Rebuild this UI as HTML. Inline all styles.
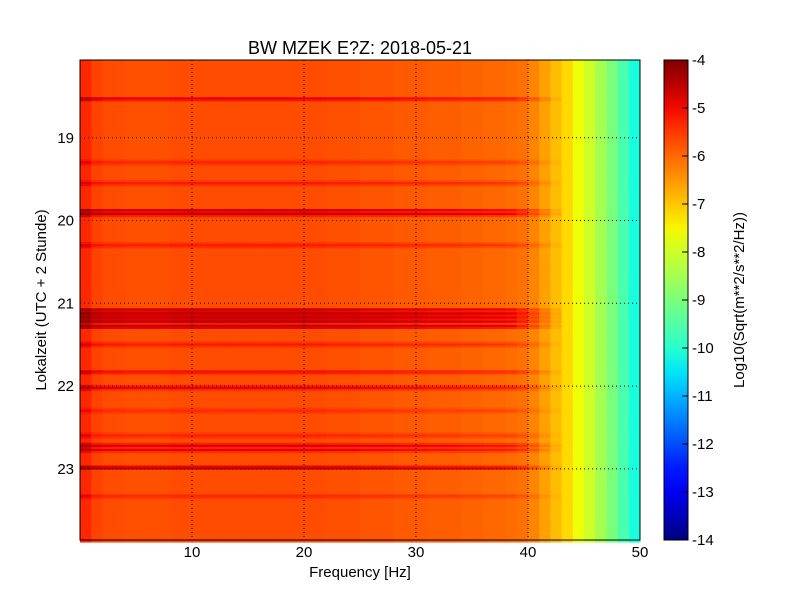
<!DOCTYPE html>
<html><head><meta charset="utf-8"><style>
body{margin:0;background:#fff;}
svg text{font-family:"Liberation Sans","DejaVu Sans",sans-serif;}
</style></head><body>
<svg id="chart" width="800" height="600" xmlns="http://www.w3.org/2000/svg">
<rect width="800" height="600" fill="#fff"/>
<text x="360" y="54" font-size="18" text-anchor="middle">BW MZEK E?Z: 2018-05-21</text>
<g id="cells"></g>
<g id="grid"></g>
<rect x="80" y="60" width="560" height="480" fill="none" stroke="#000" stroke-width="1"/>
<g id="axes"></g>
<text x="360" y="577" font-size="15" text-anchor="middle">Frequency [Hz]</text>
<text transform="translate(46,300) rotate(-90)" font-size="15" text-anchor="middle">Lokalzeit (UTC + 2 Stunde)</text>
<defs><linearGradient id="jet" x1="0" y1="1" x2="0" y2="0"></linearGradient></defs>
<rect x="664" y="60" width="24" height="480" fill="url(#jet)" stroke="#000"/>
<g id="cbar"></g>
<text transform="translate(744,300) rotate(-90)" font-size="15" text-anchor="middle">Log10(Sqrt(m**2/s**2/Hz))</text>
</svg>
<script>
// data
const freqBins = [0,1,2,3,4,5,6,7,8,9,10,11,12,13,14,15,16,17,18,19,20,21,22,23,24,25,26,27,28,29,30,31,32,33,34,35,36,37,38,39,40,41,42,43,44,45,46,47,48,49];
const freqLevel = [-5.3,-5.6,-5.7,-5.7,-5.75,-5.75,-5.75,-5.75,-5.7,-5.7,-5.7,-5.7,-5.7,-5.7,-5.7,-5.7,-5.7,-5.7,-5.7,-5.7,-5.7,-5.7,-5.75,-5.75,-5.75,-5.8,-5.8,-5.8,-5.85,-5.85,-5.85,-5.9,-5.9,-5.9,-5.95,-5.95,-6.0,-6.0,-6.05,-6.1,-6.3,-6.6,-6.9,-7.2,-7.6,-8.0,-8.5,-9.0,-9.6,-10.2];
const bandTimes = [18.53,19.3,19.55,19.88,19.92,20.3,21.08,21.13,21.18,21.22,21.28,21.5,21.83,22.02,22.3,22.6,22.72,22.77,22.99,23.33];
const bandStrength = [1.0,0.5,0.6,1.2,1.2,0.6,1.3,1.5,1.4,1.3,1.4,0.6,0.8,0.9,0.4,0.5,1.0,0.9,1.3,0.5];
const xTicks = [10,20,30,40,50];
const yTicks = [19,20,21,22,23];
const cbTicks = [-4,-5,-6,-7,-8,-9,-10,-11,-12,-13,-14];

const NS="http://www.w3.org/2000/svg";
const X0=80,X1=640,Y0=60,Y1=540,T0=18.06,T1=23.86;
const xs=f=>X0+(f/50)*(X1-X0);
const ys=t=>Y0+(t-T0)/(T1-T0)*(Y1-Y0);
const cs=v=>Y0+(-4-v)/10*(Y1-Y0);
function interp(x,pts){for(let i=1;i<pts.length;i++){if(x<=pts[i][0]){const a=pts[i-1],b=pts[i];return a[1]+(b[1]-a[1])*(x-a[0])/(b[0]-a[0]);}}return pts[pts.length-1][1];}
function jet(t){t=Math.max(0,Math.min(1,t));
 const r=interp(t,[[0,0],[0.35,0],[0.66,1],[0.89,1],[1,0.5]]);
 const g=interp(t,[[0,0],[0.125,0],[0.375,1],[0.64,1],[0.91,0],[1,0]]);
 const b=interp(t,[[0,0.5],[0.11,1],[0.34,1],[0.65,0],[1,0]]);
 return `rgb(${Math.round(r*255)},${Math.round(g*255)},${Math.round(b*255)})`;}
const col=v=>jet((v+14)/10);
function mk(tag,attrs,parent){const e=document.createElementNS(NS,tag);for(const k in attrs)e.setAttribute(k,attrs[k]);parent.appendChild(e);return e;}
const grad=document.getElementById('jet');
for(let i=0;i<=20;i++){mk('stop',{offset:i/20,'stop-color':jet(i/20)},grad);}
const cells=document.getElementById('cells');
const dt=0.025;
for(let t=T0;t<T1;t+=dt){
 let off=0;
 for(let k=0;k<bandTimes.length;k++){const d=Math.abs(t+dt/2-bandTimes[k]);if(d<0.03)off=Math.max(off,bandStrength[k]*(1-d/0.045));}
 for(let j=0;j<freqBins.length;j++){
  const f=freqBins[j];const w=Math.max(0,Math.min(1,(43-f)/5));
  const v=freqLevel[j]+off*w;
  const r=mk('rect',{x:xs(f),y:ys(t),width:xs(f+1)-xs(f)+0.5,height:ys(t+dt)-ys(t)+0.5,fill:col(v)},cells);
  
  
 }
}
const grid=document.getElementById('grid'),axes=document.getElementById('axes');
xTicks.forEach(f=>{
 if(f<50){const l=mk('line',{x1:xs(f),x2:xs(f),y1:Y0,y2:Y1,stroke:'#000','stroke-dasharray':'1,3','stroke-width':1},grid);
 }
 const t=mk('text',{x:xs(f),y:557,'font-size':15,'text-anchor':'middle'},axes);t.textContent=f;
 
});
yTicks.forEach(h=>{
 const l=mk('line',{x1:X0,x2:X1,y1:ys(h),y2:ys(h),stroke:'#000','stroke-dasharray':'1,3','stroke-width':1},grid);
 
 const t=mk('text',{x:74,y:ys(h)+5,'font-size':15,'text-anchor':'end'},axes);t.textContent=h;
 
});
const cb=document.getElementById('cbar');
cbTicks.forEach(v=>{
 mk('line',{x1:682,x2:688,y1:cs(v),y2:cs(v),stroke:'#000'},cb);
 const t=mk('text',{x:692,y:cs(v)+5,'font-size':15},cb);t.textContent=v;
 
});
</script>
</body></html>
